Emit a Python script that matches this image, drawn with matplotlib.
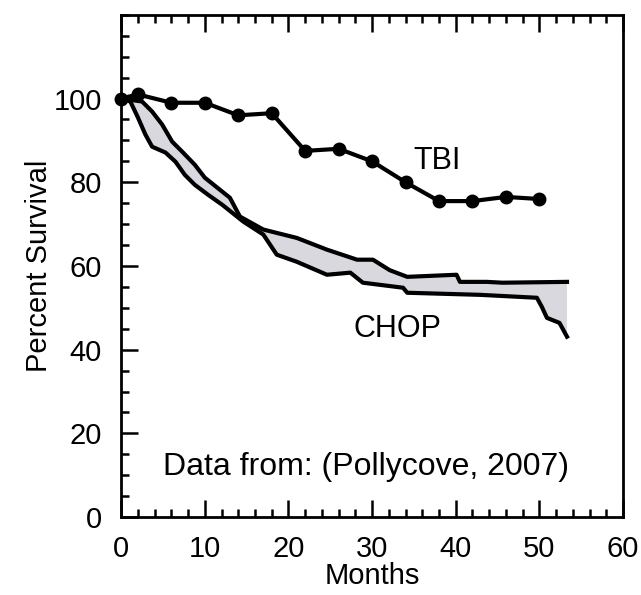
import numpy as np
import matplotlib
matplotlib.use("Agg")
import matplotlib.pyplot as plt
from matplotlib.ticker import MultipleLocator

plt.rcParams['font.family'] = ['Liberation Sans', 'DejaVu Sans']

# TBI survival (points)
tbi_months = [0, 2, 6, 10, 14, 18, 22, 26, 30, 34, 38, 42, 46, 50]
tbi_surv = [100, 101, 99, 99, 96, 96.5, 87.5, 88, 85, 80, 75.5, 75.5, 76.5, 76]

# CHOP upper bound
chop_hi_months = [0, 2.5, 3.7, 4.9, 6.1, 7.3, 8.8, 10.0, 13.0, 14.2, 17.0, 21.0,
                  24.6, 28.2, 30.1, 32.1, 34.2, 40.1, 40.5, 43.7, 45.6, 53.3]
chop_hi_surv = [100, 99.3, 96.9, 93.8, 89.7, 87.3, 84.2, 81.1, 76.3, 71.8, 68.7, 66.7,
                63.9, 61.5, 61.5, 59, 57.4, 57.9, 56.2, 56.2, 56, 56.2]

# CHOP lower bound
chop_lo_months = [0, 1.1, 2.0, 2.9, 3.7, 5.3, 6.5, 7.6, 8.8, 10.4, 12.1, 14.6, 17.0,
                  18.6, 21.0, 24.6, 27.4, 28.9, 33.7, 34.2, 42.9, 49.7, 50.3, 50.9,
                  52.4, 53.3]
chop_lo_surv = [100, 99.3, 95.5, 91.4, 88.5, 87.1, 84.9, 81.8, 79.4, 77, 74.6, 70.6, 67.5,
                62.7, 61, 57.9, 58.4, 56, 54.8, 53.6, 53.1, 52.4, 50.2, 47.6,
                46.4, 43.1]

fig = plt.figure(figsize=(6.41, 5.95), dpi=100)
ax = fig.add_axes([0.189, 0.131, 0.783, 0.844])

# shaded band between the two CHOP curves
ax.fill(np.r_[chop_hi_months, chop_lo_months[::-1]],
        np.r_[chop_hi_surv, chop_lo_surv[::-1]],
        color='#d9d8de', lw=0, zorder=1)
ax.plot(chop_hi_months, chop_hi_surv, color='black', lw=3, zorder=2,
        solid_joinstyle='round')
ax.plot(chop_lo_months, chop_lo_surv, color='black', lw=3, zorder=2,
        solid_joinstyle='round')

ax.plot(tbi_months, tbi_surv, color='black', lw=3, marker='o', ms=9, zorder=3,
        clip_on=False)

ax.text(37.8, 85.0, "TBI", fontsize=22, ha='center', va='center')
ax.text(33, 45.0, "CHOP", fontsize=22, ha='center', va='center')
ax.text(29.3, 12, "Data from: (Pollycove, 2007)", fontsize=23, ha='center', va='center')

ax.set_xlim(0, 60)
ax.set_ylim(0, 120)
ax.set_xticks([0, 10, 20, 30, 40, 50, 60])
ax.set_yticks([0, 20, 40, 60, 80, 100])
ax.xaxis.set_minor_locator(MultipleLocator(2))
ax.yaxis.set_minor_locator(MultipleLocator(5))
ax.tick_params(which='both', direction='in', top=True, right=False, width=1.8,
               labelsize=21)
ax.tick_params(axis='x', pad=13)
ax.tick_params(axis='y', pad=14)
ax.tick_params(which='major', length=12)
ax.tick_params(which='minor', length=6)
for s in ax.spines.values():
    s.set_linewidth(2)

ax.set_xlabel("Months", fontsize=21, labelpad=-1)
ax.set_ylabel("Percent Survival", fontsize=21, labelpad=0)

fig.savefig("out.png", dpi=100)
